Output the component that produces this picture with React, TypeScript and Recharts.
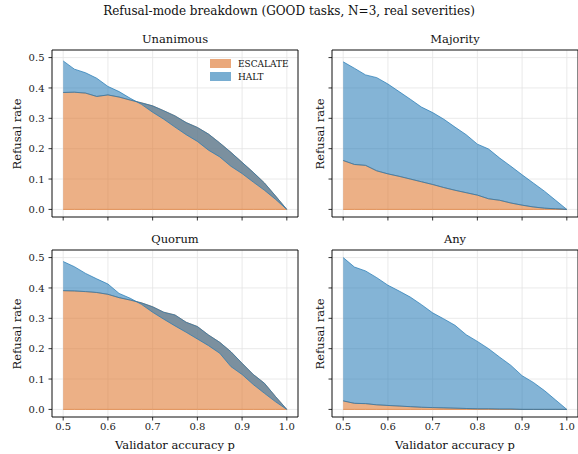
import React from 'react';
import { AreaChart, Area, XAxis, YAxis, CartesianGrid, ReferenceArea } from 'recharts';

// validator accuracy grid (x axis)
const P = [0.5, 0.525, 0.55, 0.575, 0.6, 0.625, 0.65, 0.675, 0.7, 0.725, 0.75, 0.775, 0.8, 0.825, 0.85, 0.875, 0.9, 0.925, 0.95, 0.975, 1.0];
const X_TICKS = [0.5, 0.6, 0.7, 0.8, 0.9, 1.0];
const Y_TICKS = [0, 0.1, 0.2, 0.3, 0.4, 0.5];

// orange top (ESCALATE) and blue top (HALT)
const unanimousEscalate = [0.385, 0.386, 0.383, 0.372, 0.377, 0.37, 0.36, 0.351, 0.341, 0.325, 0.308, 0.286, 0.27, 0.248, 0.219, 0.188, 0.155, 0.122, 0.087, 0.044, 0];
const unanimousHalt = [0.489, 0.462, 0.45, 0.432, 0.405, 0.388, 0.366, 0.346, 0.32, 0.297, 0.271, 0.246, 0.224, 0.195, 0.173, 0.142, 0.118, 0.09, 0.063, 0.033, 0];

const majorityEscalate = [0.161, 0.148, 0.145, 0.127, 0.117, 0.109, 0.1, 0.091, 0.082, 0.072, 0.063, 0.055, 0.047, 0.035, 0.03, 0.021, 0.014, 0.008, 0.004, 0.002, 0];
const majorityHalt = [0.486, 0.465, 0.443, 0.434, 0.413, 0.388, 0.363, 0.337, 0.319, 0.297, 0.271, 0.246, 0.215, 0.199, 0.169, 0.142, 0.114, 0.087, 0.06, 0.03, 0];

const quorumEscalate = [0.391, 0.39, 0.388, 0.385, 0.379, 0.368, 0.36, 0.351, 0.338, 0.32, 0.311, 0.287, 0.273, 0.245, 0.221, 0.19, 0.152, 0.115, 0.086, 0.042, 0];
const quorumHalt = [0.487, 0.47, 0.448, 0.43, 0.413, 0.382, 0.366, 0.346, 0.32, 0.297, 0.275, 0.254, 0.232, 0.21, 0.185, 0.141, 0.115, 0.082, 0.053, 0.025, 0];

const anyEscalate = [0.028, 0.02, 0.019, 0.015, 0.013, 0.011, 0.009, 0.007, 0.006, 0.005, 0.004, 0.003, 0.002, 0.002, 0.001, 0.001, 0, 0, 0, 0, 0];
const anyHalt = [0.5, 0.469, 0.456, 0.434, 0.409, 0.39, 0.37, 0.345, 0.318, 0.298, 0.277, 0.246, 0.224, 0.2, 0.172, 0.145, 0.111, 0.089, 0.062, 0.031, 0];

const X_DOMAIN: [number, number] = [0.475, 1.025];
const Y_DOMAIN: [number, number] = [-0.025, 0.525];

const ORANGE = '#e07b35';
const BLUE = '#1f77b4';
const FONT = '"DejaVu Serif", serif';

const PLOT_W = 246;
const PLOT_H = 167;
const YAXIS_W = 40;
const XAXIS_H = 25;

function buildRows(esc: number[], halt: number[]) {
  return P.map((p, i) => ({ p, esc: [0, esc[i]], halt: [esc[i], halt[i]] }));
}

interface PanelProps {
  title: string;
  esc: number[];
  halt: number[];
  left: number;
  top: number;
  showX: boolean;
  showY: boolean;
  legend?: boolean;
}

const Panel: React.FC<PanelProps> = ({ title, esc, halt, left, top, showX, showY, legend }) => {
  const data = buildRows(esc, halt);
  const tickStyle = { fontSize: 10, fill: '#222', fontFamily: FONT };
  const labelStyle: React.CSSProperties = { fontSize: 11.5, fontFamily: FONT, color: '#111', fontWeight: 400 };
  return (
    <>
      <div style={{ ...labelStyle, position: 'absolute', left, top: top - 18, width: PLOT_W, textAlign: 'center' }}>{title}</div>
      <div
        style={{
          ...labelStyle,
          position: 'absolute',
          left: showY ? left - 35 : left - 12,
          top: top + PLOT_H / 2,
          transform: 'translate(-50%, -50%) rotate(-90deg)',
          whiteSpace: 'nowrap',
        }}
      >
        Refusal rate
      </div>
      {showX && (
        <div style={{ ...labelStyle, position: 'absolute', left, top: top + PLOT_H + 21, width: PLOT_W, textAlign: 'center' }}>
          Validator accuracy p
        </div>
      )}
      <div style={{ position: 'absolute', left: left - YAXIS_W, top: top - 5 }}>
        <AreaChart width={YAXIS_W + PLOT_W + 5} height={5 + PLOT_H + XAXIS_H} data={data} margin={{ top: 5, right: 5, bottom: 0, left: 0 }}>
          <CartesianGrid stroke="#e4e4e4" strokeWidth={0.8} />
          <XAxis
            dataKey="p"
            type="number"
            domain={X_DOMAIN}
            ticks={X_TICKS}
            allowDataOverflow
            height={XAXIS_H}
            axisLine={false}
            tickLine={{ stroke: '#000', strokeWidth: 0.8 }}
            tickSize={3.5}
            tickMargin={2}
            tick={tickStyle}
            tickFormatter={(v: number) => (showX ? v.toFixed(1) : '')}
          />
          <YAxis
            type="number"
            domain={Y_DOMAIN}
            ticks={Y_TICKS}
            allowDataOverflow
            width={YAXIS_W}
            axisLine={false}
            tickLine={{ stroke: '#000', strokeWidth: 0.8 }}
            tickSize={3.5}
            tickMargin={4}
            tick={tickStyle}
            tickFormatter={(v: number) => (showY ? v.toFixed(1) : '')}
          />
          <Area
            type="linear"
            dataKey="esc"
            fill={ORANGE}
            fillOpacity={0.6}
            stroke={ORANGE}
            strokeOpacity={0.7}
            strokeWidth={1}
            isAnimationActive={false}
            dot={false}
            activeDot={false}
          />
          <Area
            type="linear"
            dataKey="halt"
            fill={BLUE}
            fillOpacity={0.55}
            stroke={BLUE}
            strokeOpacity={0.7}
            strokeWidth={1}
            isAnimationActive={false}
            dot={false}
            activeDot={false}
          />
          <ReferenceArea
            x1={X_DOMAIN[0]}
            x2={X_DOMAIN[1]}
            y1={Y_DOMAIN[0]}
            y2={Y_DOMAIN[1]}
            fill="none"
            stroke="#000"
            strokeWidth={0.9}
            ifOverflow="visible"
          />
        </AreaChart>
      </div>
      {legend && (
        <div style={{ position: 'absolute', left: left + 158, top: top + 7, fontFamily: FONT, fontSize: 9, color: '#111' }}>
          {[
            { label: 'ESCALATE', color: ORANGE, op: 0.6 },
            { label: 'HALT', color: BLUE, op: 0.55 },
          ].map((item) => (
            <div key={item.label} style={{ display: 'flex', alignItems: 'center', height: 13 }}>
              <span
                style={{
                  display: 'inline-block',
                  width: 19,
                  height: 7,
                  background: item.color,
                  opacity: item.op + 0.05,
                  border: `1px solid ${item.color}`,
                  marginRight: 7,
                }}
              />
              {item.label}
            </div>
          ))}
        </div>
      )}
    </>
  );
};

export default function App() {
  return (
    <div style={{ position: 'absolute', left: 0, top: 0, width: 578, height: 454, overflow: 'hidden', background: '#fff' }}>
      <div style={{ position: 'absolute', left: 0, top: 4, width: 578, textAlign: 'center', fontSize: 12, fontFamily: FONT, color: '#111' }}>
        Refusal-mode breakdown (GOOD tasks, N=3, real severities)
      </div>
      <Panel title="Unanimous" esc={unanimousEscalate} halt={unanimousHalt} left={52} top={50} showX={false} showY legend />
      <Panel title="Majority" esc={majorityEscalate} halt={majorityHalt} left={332} top={50} showX={false} showY={false} />
      <Panel title="Quorum" esc={quorumEscalate} halt={quorumHalt} left={52} top={250} showX showY />
      <Panel title="Any" esc={anyEscalate} halt={anyHalt} left={332} top={250} showX showY={false} />
    </div>
  );
}
